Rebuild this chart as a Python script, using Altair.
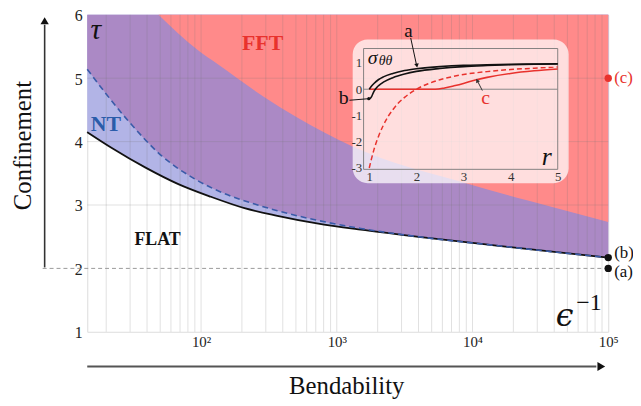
import altair as alt
import pandas as pd

# ---------------- main phase diagram (bendability vs confinement) ----------------
flat_x = [14.5, 22, 39, 68, 118, 209, 365, 714, 1500, 4320, 15000, 40000, 100000]
flat_y = [4.15, 3.90, 3.59, 3.33, 3.13, 2.95, 2.83, 2.71, 2.61, 2.49, 2.36, 2.26, 2.17]
nt_x = [14.5, 29, 51, 90, 157, 261, 365, 714, 1500, 4320, 15000, 40000, 100000]
nt_y = [5.14, 4.33, 3.78, 3.41, 3.16, 3.00, 2.91, 2.76, 2.63, 2.49, 2.36, 2.26, 2.17]
fft_x = [48.6, 95, 133, 293, 511, 1284, 9350, 25600, 100000]
fft_y = [6.0, 5.44, 5.22, 4.70, 4.38, 3.93, 3.33, 3.07, 2.73]

grid_x = [20, 30, 40, 50, 60, 70, 80, 90, 100, 200, 300, 400, 500, 600, 700, 800, 900,
          1000, 2000, 3000, 4000, 5000, 6000, 7000, 8000, 9000, 10000, 20000, 30000,
          40000, 50000, 60000, 70000, 80000, 90000]
grid_y = [3, 4, 5]
x_ticks = [100, 1000, 10000, 100000]
y_ticks = [1, 2, 3, 4, 5, 6]

pt_y = [5.0, 2.17, 2.0]
pt_col = ["#e8322d", "#111111", "#111111"]
pt_lab = ["(c)", "(b)", "(a)"]
pt_lab_y = [5.0, 2.24, 1.95]

lab_txt = ["FFT", "NT", "FLAT"]
lab_x = [284, 19.9, 47.8]
lab_y = [5.55, 4.27, 2.44]
lab_col = ["#e8322d", "#2a5caa", "#111111"]
lab_size = [22, 22, 18]

# ---------------- inset: sigma_theta_theta vs r ----------------
r_a = [1.0, 1.05, 1.1, 1.2, 1.3, 1.5, 1.75, 2.0, 2.5, 3.0, 3.5, 4.0, 4.5, 5.0]
s_a = [0.0, 0.12, 0.22, 0.37, 0.47, 0.60, 0.71, 0.78, 0.86, 0.91, 0.93, 0.95, 0.96, 0.97]
r_b = [1.0, 1.05, 1.1, 1.15, 1.2, 1.3, 1.5, 1.75, 2.0, 2.5, 3.0, 3.5, 4.0, 4.5, 5.0]
s_b = [-0.38, -0.28, -0.08, 0.05, 0.14, 0.27, 0.44, 0.58, 0.68, 0.79, 0.86, 0.90, 0.93, 0.95, 0.96]
r_c = [1.0, 1.5, 2.0, 2.4, 2.6, 2.8, 3.0, 3.25, 3.5, 4.0, 4.5, 5.0]
s_c = [0.0, 0.0, 0.0, 0.0, 0.05, 0.13, 0.22, 0.35, 0.45, 0.60, 0.70, 0.77]
r_d = [1.0, 1.1, 1.2, 1.3, 1.4, 1.5, 1.6, 1.75, 2.0, 2.25, 2.5, 3.0, 3.5, 4.0, 4.5, 5.0]
s_d = [-3.0, -2.3, -1.78, -1.37, -1.04, -0.78, -0.56, -0.31, 0.0, 0.21, 0.36, 0.56, 0.67, 0.75, 0.80, 0.85]
ins_xticks = [1, 2, 3, 4, 5]
ins_yticks = [1, 0, -1, -2, -3]

SERIF = "Liberation Serif"
RED = "#e8322d"
one = pd.DataFrame({"k": [0]})
H = 320

xs = alt.Scale(type="log", domain=[14.5, 100000], nice=False)
ys = alt.Scale(domain=[1, 6], nice=False, zero=False)
xaxis = alt.Axis(values=x_ticks, title=None, grid=False, ticks=False, domain=False,
                 labelExpr="datum.value == 100 ? '10²' : datum.value == 1000 ? '10³' : datum.value == 10000 ? '10⁴' : '10⁵'",
                 labelFont=SERIF, labelFontSize=15, labelColor="#222", labelPadding=3,
                 labelFlush=False, labelOverlap=False)
yaxis = alt.Axis(values=y_ticks, format="d", title=None, grid=False, ticks=False, domain=False,
                 labelFont=SERIF, labelFontSize=16, labelColor="#222", labelPadding=5,
                 labelOffset=1, labelFlush=False)

df_flat = pd.DataFrame({"b": flat_x, "c": flat_y})
df_nt = pd.DataFrame({"b": nt_x, "c": nt_y})
df_fft = pd.DataFrame({"b": fft_x, "c": fft_y})

area_lav = alt.Chart(df_flat).mark_area(color="#b2b4e6", interpolate="monotone").encode(
    x=alt.X("b:Q", scale=xs, axis=xaxis), y=alt.Y("c:Q", scale=ys, axis=yaxis), y2=alt.datum(6))
area_pur = alt.Chart(df_nt).mark_area(color="#ab89c5", interpolate="monotone").encode(
    x="b:Q", y="c:Q", y2=alt.datum(6))
area_red = alt.Chart(df_fft).mark_area(color="#ff8a8a", interpolate="monotone").encode(
    x="b:Q", y="c:Q", y2=alt.datum(6))

gx = alt.Chart(pd.DataFrame({"b": grid_x})).mark_rule(color="#777", opacity=0.28, strokeWidth=0.8).encode(x="b:Q")
gy = alt.Chart(pd.DataFrame({"c": grid_y})).mark_rule(color="#777", opacity=0.28, strokeWidth=0.8).encode(y="c:Q")

line_flat = alt.Chart(df_flat).mark_line(color="#111", strokeWidth=1.8, interpolate="monotone").encode(x="b:Q", y="c:Q")
line_nt = alt.Chart(df_nt).mark_line(color="#3a5ba8", strokeWidth=1.6, strokeDash=[6, 4],
                                     interpolate="monotone").encode(x="b:Q", y="c:Q")

dash2 = alt.Chart(one).mark_rule(color="#999", strokeWidth=1, strokeDash=[4, 3]).encode(
    y=alt.datum(2), x=alt.value(-45), x2=alt.value(526))

df_pts = pd.DataFrame({"b": [100000] * 3, "c": pt_y, "col": pt_col, "lab": pt_lab, "ly": pt_lab_y})
pts = alt.Chart(df_pts).mark_circle(size=55, opacity=1).encode(
    x="b:Q", y="c:Q", color=alt.Color("col:N", scale=None))
pts_lab = alt.Chart(df_pts).mark_text(align="left", baseline="middle", dx=6, font=SERIF, fontSize=17).encode(
    x="b:Q", y="ly:Q", text="lab:N", color=alt.Color("col:N", scale=None))

df_lab = pd.DataFrame({"b": lab_x, "c": lab_y, "t": lab_txt, "col": lab_col, "fs": lab_size})
labs = alt.Chart(df_lab).mark_text(font=SERIF, fontWeight="bold", baseline="middle").encode(
    x="b:Q", y="c:Q", text="t:N", color=alt.Color("col:N", scale=None), size=alt.Size("fs:Q", scale=None))

tau = alt.Chart(one).mark_text(text="τ", font=SERIF, fontStyle="italic", fontSize=30, color="#111",
                               baseline="middle").encode(x=alt.datum(16.8), y=alt.datum(5.76))
eps = alt.Chart(one).mark_text(text="ϵ", font="DejaVu Serif", fontStyle="italic", fontSize=32, color="#111",
                               baseline="middle").encode(x=alt.datum(47800), y=alt.datum(1.24))
eps_exp = alt.Chart(one).mark_text(text="−1", font=SERIF, fontSize=24, color="#111",
                                   baseline="middle").encode(x=alt.datum(72000), y=alt.datum(1.46))

# axis arrows and titles (decorations outside the plot area)
conf_line = alt.Chart(one).mark_rule(color="#333", strokeWidth=1.6).encode(
    x=alt.value(-43), y=alt.value(255), y2=alt.value(10))
conf_head = alt.Chart(one).mark_point(shape="triangle-up", filled=True, size=70, color="#111", opacity=1).encode(
    x=alt.value(-43), y=alt.value(6))
conf_txt = alt.Chart(one).mark_text(text="Confinement", font=SERIF, fontSize=25, angle=270, color="#111",
                                    baseline="middle").encode(x=alt.value(-65), y=alt.value(132))
bend_line = alt.Chart(one).mark_rule(color="#555", strokeWidth=2).encode(
    y=alt.value(355), x=alt.value(0), x2=alt.value(514))
bend_head = alt.Chart(one).mark_point(shape="triangle-right", filled=True, size=80, color="#111", opacity=1).encode(
    y=alt.value(355), x=alt.value(519))
bend_txt = alt.Chart(one).mark_text(text="Bendability", font=SERIF, fontSize=25, color="#111",
                                    baseline="middle").encode(x=alt.value(262), y=alt.value(375))

main = alt.layer(area_lav, area_pur, area_red, gx, gy, line_flat, line_nt, dash2, pts, pts_lab, labs,
                 tau, eps, eps_exp, conf_line, conf_head, conf_txt, bend_line, bend_head, bend_txt)

# ---------------- inset ----------------
ixs = alt.Scale(domain=[0.88, 5], range=[279, 475], nice=False, zero=False)
iys = alt.Scale(domain=[-3.05, 1.55], range=[156, 34], nice=False, zero=False)
ixaxis = alt.Axis(orient="bottom", offset=-(H - 156), values=ins_xticks, title=None, grid=False, ticks=False,
                  domain=False, labelFont=SERIF, labelFontSize=13, labelColor="#333", labelPadding=1,
                  labelFlush=False, labelExpr="'' + datum.value", zindex=2)
iyaxis = alt.Axis(orient="left", offset=-279, values=ins_yticks, title=None, grid=False, ticks=False,
                  domain=False, labelFont=SERIF, labelFontSize=13, labelColor="#333", labelPadding=2,
                  labelExpr="'' + datum.value", zindex=2)

bg = alt.Chart(one).mark_rect(fill="white", opacity=0.72, cornerRadius=15).encode(
    x=alt.value(268), x2=alt.value(486), y=alt.value(25), y2=alt.value(170))
frame = alt.Chart(one).mark_rect(fill=None, stroke="#777", strokeWidth=0.9).encode(
    x=alt.value(279), x2=alt.value(475), y=alt.value(34), y2=alt.value(156))
zero = alt.Chart(pd.DataFrame({"r": [0.88, 5], "s": [0, 0]})).mark_line(color="#888", strokeWidth=1).encode(
    x=alt.X("r:Q", scale=ixs, axis=ixaxis), y=alt.Y("s:Q", scale=iys, axis=iyaxis))

ln_d = alt.Chart(pd.DataFrame({"r": r_d, "s": s_d})).mark_line(
    color=RED, strokeWidth=1.5, strokeDash=[5, 3], interpolate="monotone").encode(x="r:Q", y="s:Q")
ln_c = alt.Chart(pd.DataFrame({"r": r_c, "s": s_c})).mark_line(
    color=RED, strokeWidth=1.6, interpolate="monotone").encode(x="r:Q", y="s:Q")
ln_b = alt.Chart(pd.DataFrame({"r": r_b, "s": s_b})).mark_line(
    color="#111", strokeWidth=1.6, interpolate="monotone").encode(x="r:Q", y="s:Q")
ln_a = alt.Chart(pd.DataFrame({"r": r_a, "s": s_a})).mark_line(
    color="#111", strokeWidth=1.6, interpolate="monotone").encode(x="r:Q", y="s:Q")

sig = alt.Chart(one).mark_text(text="σ", font=SERIF, fontStyle="italic", fontSize=20, align="left",
                               baseline="middle", color="#111").encode(x=alt.datum(0.97), y=alt.datum(1.19))
thth = alt.Chart(one).mark_text(text="θθ", font=SERIF, fontStyle="italic", fontSize=14, align="left",
                                baseline="middle", color="#111").encode(x=alt.datum(1.20), y=alt.datum(1.06))
rlab = alt.Chart(one).mark_text(text="r", font=SERIF, fontStyle="italic", fontSize=26,
                                baseline="middle", color="#111").encode(x=alt.datum(4.77), y=alt.datum(-2.6))
alab = alt.Chart(one).mark_text(text="a", font=SERIF, fontSize=19, baseline="middle", color="#111").encode(
    x=alt.datum(1.83), y=alt.datum(2.2))
blab = alt.Chart(one).mark_text(text="b", font=SERIF, fontSize=20, baseline="middle", color="#111").encode(
    x=alt.datum(0.46), y=alt.datum(-0.33))
clab = alt.Chart(one).mark_text(text="c", font=SERIF, fontSize=20, baseline="middle", color=RED).encode(
    x=alt.datum(3.47), y=alt.datum(-0.32))

a_arrow = alt.Chart(one).mark_rule(color="#111", strokeWidth=1).encode(
    x=alt.datum(1.88), x2=alt.datum(2.0), y=alt.datum(1.95), y2=alt.datum(0.95))
a_head = alt.Chart(one).mark_point(shape="triangle-down", filled=True, size=22, angle=349, color="#111",
                                   opacity=1).encode(x=alt.datum(2.01), y=alt.datum(0.9))
b_line = alt.Chart(one).mark_rule(color="#111", strokeWidth=1).encode(
    x=alt.datum(0.58), x2=alt.datum(0.99), y=alt.datum(-0.42), y2=alt.datum(-0.36))
b_dot = alt.Chart(one).mark_circle(size=10, color="#111", opacity=1).encode(x=alt.datum(0.99), y=alt.datum(-0.36))
c_arrow = alt.Chart(one).mark_rule(color="#333", strokeWidth=1).encode(
    x=alt.datum(3.40), x2=alt.datum(3.30), y=alt.datum(-0.05), y2=alt.datum(0.3))
c_head = alt.Chart(one).mark_point(shape="triangle-up", filled=True, size=20, angle=331, color="#333",
                                   opacity=1).encode(x=alt.datum(3.29), y=alt.datum(0.33))

inset = alt.layer(bg, frame, zero, ln_d, ln_c, ln_b, ln_a, sig, thth, rlab, alab, blab, clab,
                  a_arrow, a_head, b_line, b_dot, c_arrow, c_head)

chart = alt.layer(main, inset).resolve_scale(x="independent", y="independent").properties(
    width=526, height=H, autosize="none",
    padding={"left": 80, "top": 5, "right": 25, "bottom": 69},
).configure_view(stroke="#333", strokeWidth=1.2).configure(font=SERIF)

chart.save("out.html", embed_options={"renderer": "svg", "actions": False})
